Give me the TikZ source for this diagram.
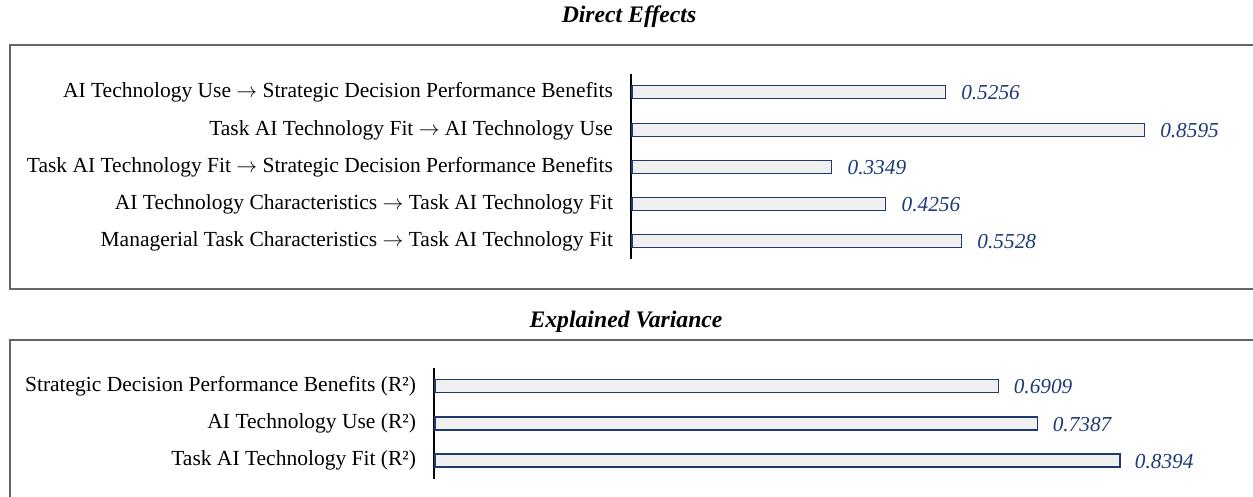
\documentclass[tikz,border=0pt]{standalone}
\usepackage{fontspec}
\setmainfont{Liberation Serif}
\definecolor{barline}{HTML}{1F3A6E}
\definecolor{barfill}{HTML}{F0F0F0}
\definecolor{valtext}{HTML}{1F3A78}
\definecolor{frame}{HTML}{666666}
\newcommand{\pathto}{\ensuremath{\rightarrow}}
\begin{document}
\begin{tikzpicture}[x=1pt,y=-1pt,
  every node/.style={inner sep=0pt,outer sep=0pt},
  paneltitle/.style={font=\fontsize{23.7}{27}\selectfont\bfseries\itshape,anchor=center},
  panelframe/.style={draw=frame,line width=1.2pt},
  axisline/.style={draw=black,line width=1.1pt},
  barbox/.style={draw=barline,fill=barfill,line width=1.4pt},
  rowlabel/.style={font=\fontsize{21.5}{24}\selectfont,anchor=east},
  vallabel/.style={font=\fontsize{21.3}{24}\selectfont\itshape,text=valtext,anchor=west}]
\useasboundingbox (0,0) rectangle (1253,497);
\clip (0,0) rectangle (1253,497);

% ---------- Direct effects panel ----------
\node[paneltitle] (t1) at (629,17) {Direct Effects};
\draw[panelframe] (10,45) rectangle (1262,289);
\draw[axisline] (631,74) -- (631,259);

\def\ux{596}
\foreach \name/\y/\v/\txt in {
  d1/92/0.5256/{AI Technology Use \pathto{} Strategic Decision Performance Benefits},
  d2/130/0.8595/{Task AI Technology Fit \pathto{} AI Technology Use},
  d3/167/0.3349/{Task AI Technology Fit \pathto{} Strategic Decision Performance Benefits},
  d4/204/0.4256/{AI Technology Characteristics \pathto{} Task AI Technology Fit},
  d5/241/0.5528/{Managerial Task Characteristics \pathto{} Task AI Technology Fit}}{
  \draw[barbox] (632,\y-6.5) rectangle (632+\v*\ux,\y+6.5);
  \node[rowlabel] (\name-lab) at (613,\y) {\txt};
  \node[vallabel] (\name-val) at (632+\v*\ux+16,\y+1) {\v};
}

% ---------- Explained variance panel ----------
\node[paneltitle] (t2) at (626,322) {Explained Variance};
\draw[panelframe] (10,340) rectangle (1262,510);
\draw[axisline] (434,368) -- (434,479);

\def\uy{816}
\foreach \name/\y/\v/\txt in {
  r1/386/0.6909/{Strategic Decision Performance Benefits (R²)},
  r2/423.5/0.7387/{AI Technology Use (R²)},
  r3/460.5/0.8394/{Task AI Technology Fit (R²)}}{
  \draw[barbox] (435,\y-6.5) rectangle (435+\v*\uy,\y+6.5);
  \node[rowlabel] (\name-lab) at (416,\y) {\txt};
  \node[vallabel] (\name-val) at (435+\v*\uy+15,\y+1) {\v};
}
\end{tikzpicture}
\end{document}
